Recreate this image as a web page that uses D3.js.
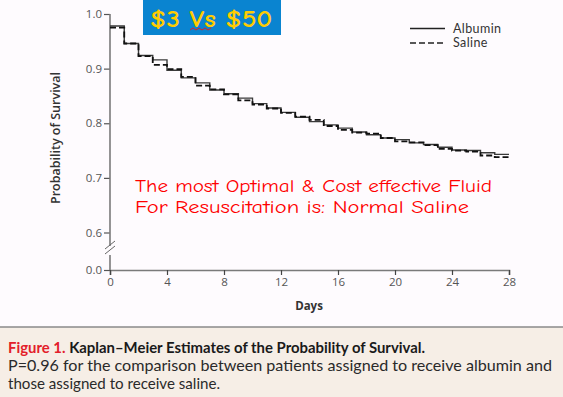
<!DOCTYPE html>
<html>
<head>
<meta charset="utf-8">
<script src="https://cdn.jsdelivr.net/npm/d3@7"></script>
<style>
  body { margin: 0; background: #fefbfe; }
  svg { display: block; }
</style>
</head>
<body>
<div id="chart"></div>
<script>
// Days with a step in the survival curves (last point closes the curve at day 28)
const days = [0, 1, 2, 3, 4, 5, 6, 7, 8, 9, 10, 11, 12, 13, 14, 15, 16, 17, 18, 19, 20, 21, 22, 23, 24, 25, 26, 27, 28];
const albumin = [0.978, 0.946, 0.924, 0.916, 0.897, 0.883, 0.874, 0.861, 0.854, 0.846, 0.836, 0.828, 0.820, 0.811, 0.803, 0.797, 0.791, 0.784, 0.779, 0.773, 0.770, 0.764, 0.761, 0.756, 0.751, 0.750, 0.746, 0.743, 0.743];
const saline = [0.975, 0.946, 0.923, 0.907, 0.899, 0.885, 0.869, 0.862, 0.853, 0.842, 0.834, 0.827, 0.819, 0.812, 0.806, 0.795, 0.788, 0.783, 0.781, 0.773, 0.767, 0.765, 0.760, 0.753, 0.750, 0.748, 0.741, 0.738, 0.738];
const xTicks = [0, 4, 8, 12, 16, 20, 24, 28];
const yTicks = [0, 0.6, 0.7, 0.8, 0.9, 1.0];
const seriesNames = ["Albumin", "Saline"];

const W = 563, H = 397;
const svg = d3.select("#chart").append("svg").attr("width", W).attr("height", H);

// caption panel at the bottom
svg.append("rect").attr("x", 0).attr("y", 327).attr("width", W).attr("height", H - 327).attr("fill", "#f6eee6");
svg.append("line").attr("x1", 0).attr("x2", W).attr("y1", 327).attr("y2", 327).attr("stroke", "#8a8a8a").attr("stroke-width", 1.5);

// scales: the y axis is broken between 0 and 0.6
const x = d3.scaleLinear().domain([0, 28]).range([110, 509]);
const y = d3.scaleLinear().domain([0, 0.6, 1.0]).range([270, 232.5, 14]);

const axisColor = "#7a7a7a";
const tickFont = "'Open Sans', 'DejaVu Sans', sans-serif";

// x axis
const gx = svg.append("g").attr("transform", "translate(0,270)")
  .call(d3.axisBottom(x).tickValues(xTicks).tickSize(5).tickPadding(3));
gx.select(".domain").attr("stroke", axisColor).attr("stroke-width", 1.6);
gx.selectAll(".tick line").attr("stroke", "#444").attr("stroke-width", 1.2);
gx.selectAll(".tick text").attr("fill", "#555").style("font-size", "11.5px").style("font-family", tickFont);

// y axis
const gy = svg.append("g").attr("transform", "translate(110,0)")
  .call(d3.axisLeft(y).tickValues(yTicks).tickFormat(d3.format(".1f")).tickSize(6).tickPadding(2));
gy.select(".domain").remove();
gy.selectAll(".tick line").attr("stroke", "#555").attr("stroke-width", 1.2);
gy.selectAll(".tick text").attr("fill", "#555").style("font-size", "11.5px").style("font-family", tickFont);

// axis line with the break marks
svg.append("line").attr("x1", 110).attr("x2", 110).attr("y1", y(1.0)).attr("y2", 246).attr("stroke", axisColor).attr("stroke-width", 1.6);
svg.append("line").attr("x1", 110).attr("x2", 110).attr("y1", 255).attr("y2", 270).attr("stroke", axisColor).attr("stroke-width", 1.6);
[0, 5].forEach(off => {
  svg.append("line")
    .attr("x1", 105).attr("y1", 253 + off - 4)
    .attr("x2", 115).attr("y2", 245 + off - 4)
    .attr("stroke", "#666").attr("stroke-width", 1);
});

// axis titles
svg.append("text")
  .attr("transform", "translate(60,138) rotate(-90)")
  .attr("text-anchor", "middle")
  .attr("fill", "#333")
  .style("font-family", tickFont).style("font-size", "12.5px").style("font-weight", "600")
  .text("Probability of Survival");
svg.append("text")
  .attr("x", 309).attr("y", 310)
  .attr("text-anchor", "middle")
  .attr("fill", "#333")
  .style("font-family", tickFont).style("font-size", "11.5px").style("font-weight", "bold")
  .text("Days");

// survival curves
const line = d3.line()
  .x((d, i) => x(days[i]))
  .y(d => y(d))
  .curve(d3.curveStepAfter);

svg.append("path").datum(albumin).attr("d", line)
  .attr("fill", "none").attr("stroke", "#3a3a3a").attr("stroke-width", 1.4);
svg.append("path").datum(saline).attr("d", line)
  .attr("fill", "none").attr("stroke", "#111").attr("stroke-width", 1.8).attr("stroke-dasharray", "6,3");

// legend
const legend = svg.append("g").attr("transform", "translate(410,28.5)");
seriesNames.forEach((name, i) => {
  legend.append("line")
    .attr("x1", 0).attr("x2", 35).attr("y1", i * 14.5).attr("y2", i * 14.5)
    .attr("stroke", "#222").attr("stroke-width", 1.5)
    .attr("stroke-dasharray", i === 1 ? "6,3" : null);
  legend.append("text")
    .attr("x", 43).attr("y", i * 14.5 + 4.3)
    .attr("fill", "#333")
    .style("font-family", "Lato, 'Open Sans', sans-serif").style("font-size", "12.5px")
    .style("letter-spacing", "0.4px")
    .text(name);
});

// blue price banner
svg.append("rect").attr("x", 143).attr("y", 0).attr("width", 138).attr("height", 35).attr("fill", "#0a84d0");
svg.append("text")
  .attr("x", 150).attr("y", 27)
  .attr("textLength", 122).attr("lengthAdjust", "spacingAndGlyphs")
  .attr("fill", "#ffcc00")
  .style("font-family", "'Comic Sans MS', 'Comic Neue', 'DejaVu Sans', sans-serif")
  .style("font-size", "25px").style("font-weight", "bold")
  .text("$3 Vs $50");
// spell-check squiggle under "Vs"
svg.append("path")
  .attr("d", d3.range(0, 8).map(i => (i === 0 ? "M" : "L") + (190 + i * 3) + "," + (i % 2 ? 28 : 30)).join(""))
  .attr("fill", "none").attr("stroke", "#e02020").attr("stroke-width", 1);

// red annotation
const note = ["The most Optimal & Cost effective Fluid", "For Resuscitation is: Normal Saline"];
const noteWidth = [357, 334];
note.forEach((t, i) => {
  svg.append("text")
    .attr("x", 135).attr("y", 192 + i * 21)
    .attr("textLength", noteWidth[i]).attr("lengthAdjust", "spacingAndGlyphs")
    .attr("fill", "#ff0000")
    .style("font-family", "'Comic Sans MS', 'Comic Neue', 'DejaVu Sans', sans-serif")
    .style("font-size", "19px")
    .text(t);
});

// figure caption
const capFont = "'Lato', 'Open Sans', sans-serif";
const cap1 = svg.append("text").attr("x", 8).attr("y", 353)
  .attr("textLength", 417).attr("lengthAdjust", "spacingAndGlyphs")
  .style("font-family", capFont).style("font-size", "15px").style("font-weight", "bold");
cap1.append("tspan").attr("fill", "#e3202a").text("Figure 1. ");
cap1.append("tspan").attr("fill", "#1a1a1a").text("Kaplan\u2013Meier Estimates of the Probability of Survival.");

svg.append("text").attr("x", 8).attr("y", 371)
  .attr("textLength", 544).attr("lengthAdjust", "spacingAndGlyphs")
  .attr("fill", "#2a2a2a")
  .style("font-family", capFont).style("font-size", "15px")
  .text("P=0.96 for the comparison between patients assigned to receive albumin and");
svg.append("text").attr("x", 8).attr("y", 389)
  .attr("textLength", 212).attr("lengthAdjust", "spacingAndGlyphs")
  .attr("fill", "#2a2a2a")
  .style("font-family", capFont).style("font-size", "15px")
  .text("those assigned to receive saline.");
</script>
</body>
</html>
